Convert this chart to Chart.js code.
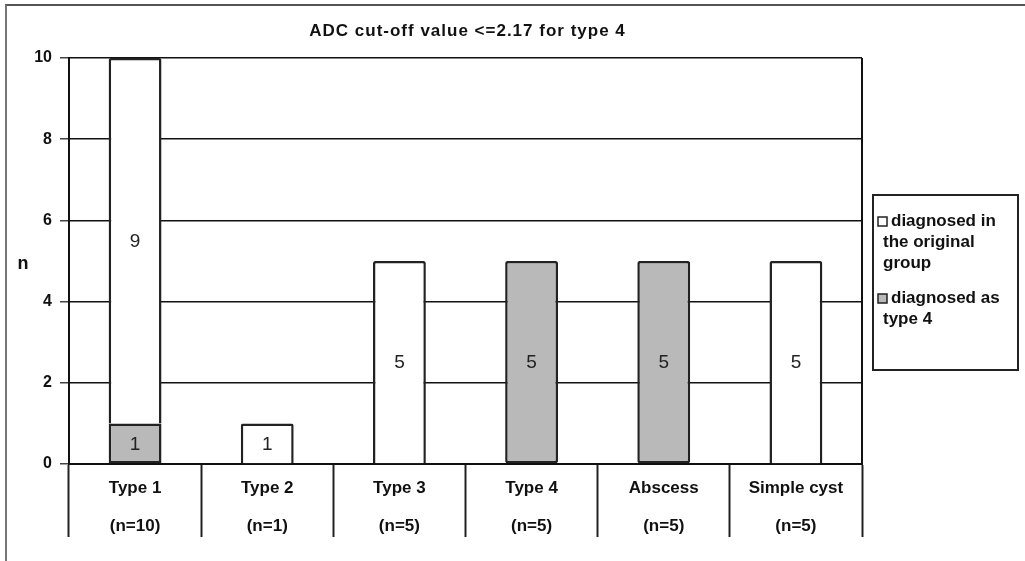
<!DOCTYPE html>
<html>
<head>
<meta charset="utf-8">
<script src="https://cdn.jsdelivr.net/npm/chart.js@4.4.1/dist/chart.umd.min.js"></script>
<style>
  html, body { margin: 0; padding: 0; background: #fff; }
  #wrap { position: relative; width: 1025px; height: 561px; }
  #frame { position: absolute; left: 5px; top: 4px; right: 0; bottom: 0;
           border-top: 2px solid #555; border-left: 2px solid #777; pointer-events: none; }
</style>
</head>
<body>
<div id="wrap">
  <canvas id="chart" width="1025" height="561"></canvas>
  <div id="frame"></div>
</div>
<script>
const FONT = '"Liberation Sans", Arial, sans-serif';

const categories = ['Type 1', 'Type 2', 'Type 3', 'Type 4', 'Abscess', 'Simple cyst'];
const groupSizes = ['(n=10)', '(n=1)', '(n=5)', '(n=5)', '(n=5)', '(n=5)'];
const asType4 = [1, 0, 0, 5, 5, 0];
const inOriginal = [9, 1, 5, 0, 0, 5];
const yTicks = [0, 2, 4, 6, 8, 10];

const titleText = 'ADC cut-off value <=2.17 for type 4';
const legendItems = [
  { lines: ['diagnosed in', 'the original', 'group'], color: '#ffffff' },
  { lines: ['diagnosed as', 'type 4'], color: '#b9b9b9' }
];

// title, "n", plot border, bar labels and legend
const extras = {
  id: 'extras',
  afterDraw(chart) {
    const ctx = chart.ctx;
    const area = chart.chartArea;
    ctx.save();

    // right border of the plot
    ctx.strokeStyle = '#111';
    ctx.lineWidth = 2;
    ctx.beginPath();
    ctx.moveTo(area.right, area.top);
    ctx.lineTo(area.right, area.bottom);
    ctx.stroke();

    // title
    ctx.fillStyle = '#111';
    ctx.font = 'bold 17px ' + FONT;
    ctx.textAlign = 'center';
    ctx.textBaseline = 'middle';
    ctx.letterSpacing = '1px';
    ctx.fillText(titleText, (area.left + area.right) / 2 + 2, 31);
    ctx.letterSpacing = '0px';

    // y axis label
    ctx.font = 'bold 18px ' + FONT;
    ctx.fillText('n', 23, (area.top + area.bottom) / 2 + 3);

    // values inside the bars
    ctx.font = '19px ' + FONT;
    ctx.fillStyle = '#222';
    chart.data.datasets.forEach((ds, di) => {
      const meta = chart.getDatasetMeta(di);
      meta.data.forEach((bar, i) => {
        const v = ds.data[i];
        if (!v) return;
        ctx.fillText(String(v), bar.x, (bar.y + bar.base) / 2 + 1);
      });
    });

    // legend
    const lx = 873, ly = 195, lw = 145, lh = 175;
    ctx.lineWidth = 2;
    ctx.strokeStyle = '#222';
    ctx.strokeRect(lx, ly, lw, lh);
    ctx.font = 'bold 17px ' + FONT;
    ctx.textAlign = 'left';
    let y = ly + 26;
    legendItems.forEach(item => {
      ctx.fillStyle = item.color;
      ctx.fillRect(lx + 5, y - 4, 9, 9);
      ctx.lineWidth = 1.5;
      ctx.strokeRect(lx + 5, y - 4, 9, 9);
      ctx.fillStyle = '#111';
      item.lines.forEach((line, k) => {
        ctx.fillText(line, k === 0 ? lx + 18 : lx + 10, y + k * 21);
      });
      y += item.lines.length * 21 + 14;
    });

    ctx.restore();
  }
};

new Chart(document.getElementById('chart'), {
  type: 'bar',
  data: {
    labels: categories.map((c, i) => [c, groupSizes[i]]),
    datasets: [
      {
        label: 'diagnosed as type 4',
        data: asType4,
        backgroundColor: '#b9b9b9',
        borderColor: '#222',
        borderWidth: 2.5,
        borderSkipped: false,
        borderRadius: 2
      },
      {
        label: 'diagnosed in the original group',
        data: inOriginal,
        backgroundColor: '#ffffff',
        borderColor: '#222',
        borderWidth: 2.5,
        borderSkipped: 'start',
        borderRadius: 2
      }
    ]
  },
  options: {
    responsive: false,
    animation: false,
    layout: { padding: { top: 58, left: 0, right: 163, bottom: 0 } },
    datasets: { bar: { categoryPercentage: 1, barPercentage: 0.4 } },
    plugins: {
      legend: { display: false },
      tooltip: { enabled: false }
    },
    scales: {
      x: {
        stacked: true,
        afterFit: (scale) => { scale.height = 97; },
        grid: {
          offset: true,
          drawOnChartArea: false,
          tickLength: 73,
          tickColor: '#222',
          tickWidth: 2
        },
        border: { color: '#111', width: 2 },
        ticks: {
          color: '#111',
          font: { family: FONT, size: 17, weight: 'bold', lineHeight: 2.2 },
          padding: -67,
          maxRotation: 0,
          autoSkip: false
        }
      },
      y: {
        stacked: true,
        min: 0,
        max: 10,
        afterFit: (scale) => { scale.width = 69; },
        afterBuildTicks: (scale) => { scale.ticks = yTicks.map(v => ({ value: v })); },
        grid: {
          color: '#111',
          lineWidth: 1.5,
          tickLength: 9,
          tickColor: '#444',
          tickWidth: 1.5
        },
        border: { color: '#111', width: 2 },
        ticks: {
          color: '#111',
          padding: 8,
          font: { family: FONT, size: 16, weight: 'bold' }
        }
      }
    }
  },
  plugins: [extras]
});
</script>
</body>
</html>
